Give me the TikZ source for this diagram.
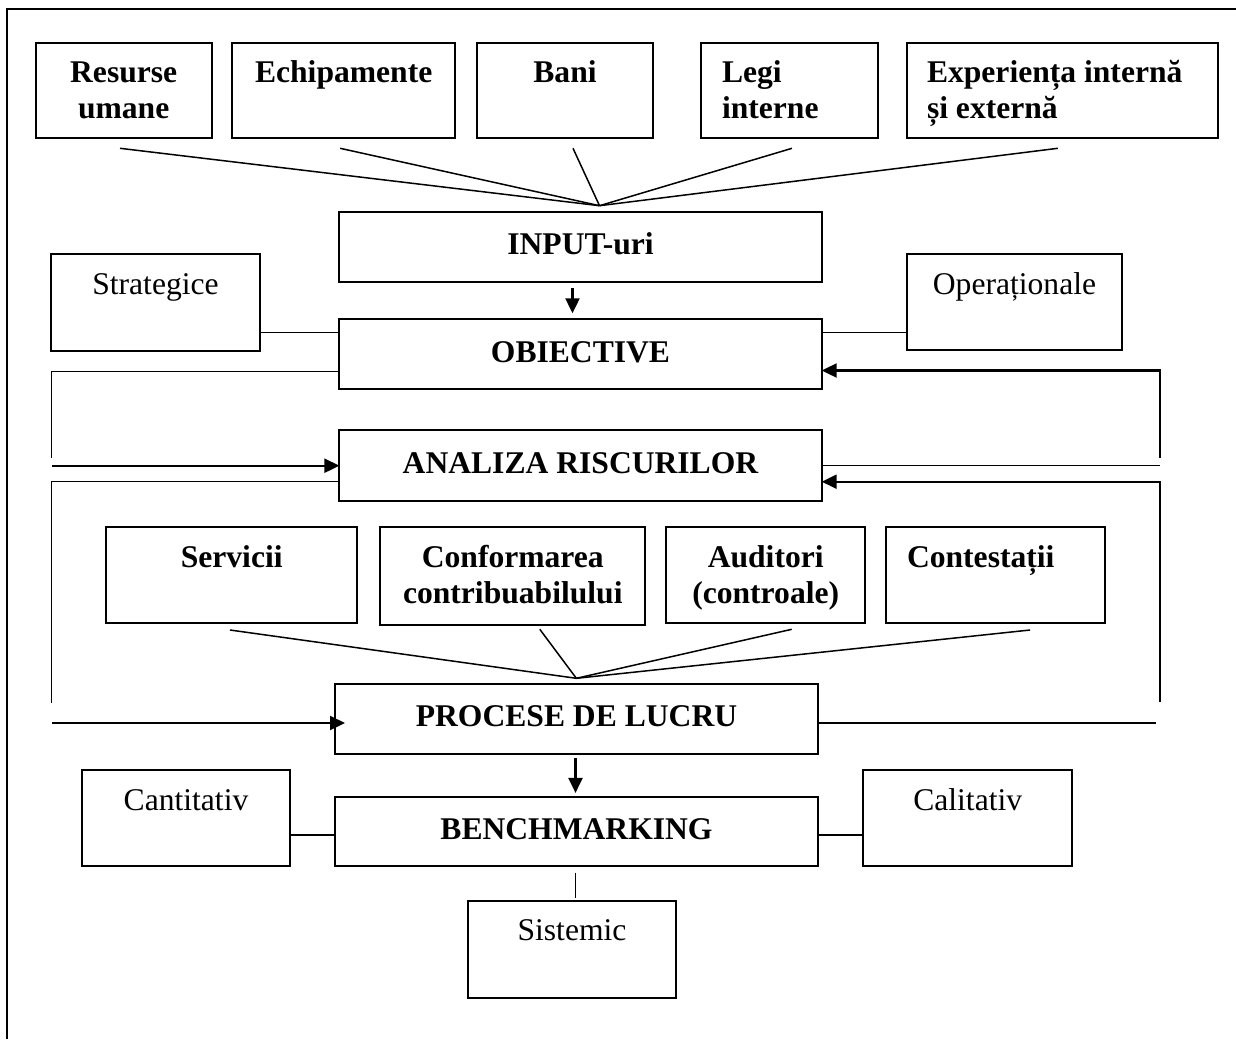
\documentclass[tikz,border=0pt]{standalone}
\usepackage{fontspec}
\setmainfont{Liberation Serif}
\usetikzlibrary{arrows.meta,calc}

% box given by its corners (x1,y1) and (x2,y2), in pixel-like units
\newcommand\mkbox[5]{%
  \node[box, minimum width={(#4-#2)*0.5pt}, minimum height={(#5-#3)*0.5pt}]
    (#1) at ({(#2+#4)/2},{(#3+#5)/2}) {};}
% text block: name, anchor, x, baseline of first line, text
\newcommand\mktxt[5]{%
  \node[lbl, anchor=#2] (#1) at (#3,{#4-25.3}) {\rule{0pt}{12.65pt}#5};}

\begin{document}
\begin{tikzpicture}[x=0.5pt,y=-0.5pt,
  box/.style={draw, line width=0.95pt, inner sep=0pt, outer sep=0pt},
  lbl/.style={inner sep=0pt, outer sep=0pt, align=center,
              font=\fontsize{15.8}{18}\selectfont},
  lbll/.style={lbl, align=left},
  ln/.style={line width=0.75pt},
  arr/.style={line width=1.1pt, -{Triangle[length=7.5pt,width=7pt]}}]

\useasboundingbox (0,0) rectangle (1236,1039);

% page frame
\draw[line width=1.35pt] (7,1039) -- (7,9) -- (1236,9);

% resources
\mkbox{hr}{35.7}{42.7}{211.7}{138.3}
\mkbox{ech}{232.3}{42.7}{455}{138.3}
\mkbox{bani}{477.2}{42.7}{652.8}{138.3}
\mkbox{legi}{701}{42.7}{878}{138.3}
\mkbox{exp}{907.3}{42.7}{1218.3}{138.3}
\mktxt{hr-t}{north}{123.7}{82.5}{\bfseries Resurse\\\bfseries umane}
\mktxt{ech-t}{north}{343.7}{82.5}{\bfseries Echipamente}
\mktxt{bani-t}{north}{565}{82.5}{\bfseries Bani}
\node[lbll, anchor=north west] (legi-t) at (722,{82.5-25.3})
  {\rule{0pt}{12.65pt}\bfseries Legi\\\bfseries interne};
\node[lbll, anchor=north west] (exp-t) at (927,{82.5-25.3})
  {\rule{0pt}{12.65pt}\bfseries Experiența internă\\\bfseries și externă};

% main chain
\mkbox{inp}{339.4}{211.7}{821.6}{281.7}
\mkbox{obj}{339.4}{319.3}{821.7}{389.3}
\mkbox{ana}{339.4}{430}{821.7}{500.7}
\mkbox{proc}{335}{684.3}{817.7}{754.3}
\mkbox{bench}{335}{796.7}{817.7}{866}
\mktxt{inp-t}{north}{580.5}{254}{\bfseries INPUT-uri}
\mktxt{obj-t}{north}{580.5}{362}{\bfseries OBIECTIVE}
\mktxt{ana-t}{north}{580.5}{473}{\bfseries ANALIZA RISCURILOR}
\mktxt{proc-t}{north}{576.5}{726}{\bfseries PROCESE DE LUCRU}
\mktxt{bench-t}{north}{576.5}{839}{\bfseries BENCHMARKING}

% objective types
\mkbox{strat}{51}{254}{260}{350.7}
\mkbox{oper}{907}{254}{1122}{350}
\mktxt{strat-t}{north}{155.5}{294.3}{Strategice}
\mktxt{oper-t}{north}{1014.5}{294.3}{Operaționale}

% work areas
\mkbox{serv}{106}{526.7}{357.4}{623}
\mkbox{conf}{380.4}{526.7}{645.2}{625}
\mkbox{aud}{666.2}{526.7}{865.2}{622.7}
\mkbox{cont}{886.3}{526.7}{1105}{623}
\mktxt{serv-t}{north}{231.7}{567}{\bfseries Servicii}
\mktxt{conf-t}{north}{512.8}{567}{\bfseries Conformarea\\\bfseries contribuabilului}
\mktxt{aud-t}{north}{765.7}{567}{\bfseries Auditori\\\bfseries (controale)}
\node[lbll, anchor=north west] (cont-t) at (907,{567-25.3})
  {\rule{0pt}{12.65pt}\bfseries Contestații};

% benchmarking types
\mkbox{cant}{81.7}{770}{290}{866}
\mkbox{cal}{863.3}{770}{1072}{866}
\mkbox{sist}{467.7}{901}{676}{997.7}
\mktxt{cant-t}{north}{186}{810}{Cantitativ}
\mktxt{cal-t}{north}{967.7}{810}{Calitativ}
\mktxt{sist-t}{north}{572}{940.7}{Sistemic}

% fan of inputs
\coordinate (fanA) at ($(inp.north)+(19,-6)$);
\draw[ln] ($(hr.south)+(-3.7,10)$) -- (fanA);
\draw[ln] ($(ech.south)+(-3.5,10)$) -- (fanA);
\draw[ln] ($(bani.south)+(8,10)$) -- (fanA);
\draw[ln] ($(legi.south)+(2.5,10)$) -- (fanA);
\draw[ln] ($(exp.south)+(-5,10)$) -- (fanA);

% fan of work areas
\coordinate (fanB) at ($(proc.north)+(0,-6)$);
\draw[ln] ($(serv.south)+(-1.7,7)$) -- (fanB);
\draw[ln] ($(conf.south)+(27,4.3)$) -- (fanB);
\draw[ln] ($(aud.south)+(26,6.6)$) -- (fanB);
\draw[ln] ($(cont.south)+(34.4,7)$) -- (fanB);

% vertical arrows
\coordinate (ax1) at (572.5,0);
\coordinate (ax2) at (575.5,0);
\coordinate (ax3) at (575.7,0);
\draw[arr, shorten <=3.2pt, shorten >=3pt] (inp.south -| ax1) -- (obj.north -| ax1);
\draw[arr, shorten <=1.9pt, shorten >=1.9pt] (proc.south -| ax2) -- (bench.north -| ax2);
\draw[ln, shorten <=3.35pt, shorten >=1.5pt] (bench.south -| ax3) -- (sist.north -| ax3);

% side connectors
\coordinate (cy1) at (0,332.7);
\coordinate (cy2) at (0,835);
\draw[ln] (strat.east |- cy1) -- (obj.west |- cy1);
\draw[ln] (obj.east |- cy1) -- (oper.west |- cy1);
\draw[ln] (cant.east |- cy2) -- (bench.west |- cy2);
\draw[ln] (bench.east |- cy2) -- (cal.west |- cy2);

% left feedback loops
\coordinate (la1) at (51.7,371.7);
\coordinate (la2) at (51.7,458);
\coordinate (la3) at (52,465.7);
\coordinate (lb1) at (51.7,481.7);
\coordinate (lb2) at (51.7,702.7);
\coordinate (lb3) at (52,723);
\draw[ln] (obj.west |- la1) -- (la1) -- (la2);
\draw[arr] (la3) -- (ana.west |- la3);
\draw[ln] (ana.west |- lb1) -- (lb1) -- (lb2);
\draw[arr, shorten >=-5pt] (lb3) -- (proc.west |- lb3);

% right feedback loops
\coordinate (ra1) at (1159.7,465.7);
\coordinate (ra2) at (1159.7,458);
\coordinate (ra3) at (1159.7,370.5);
\coordinate (rb1) at (1155.7,723);
\coordinate (rb2) at (1159.7,702);
\coordinate (rb3) at (1159.7,481.7);
\draw[ln] (ana.east |- ra1) -- (ra1);
\draw[arr] (ra2) -- (ra3) -- (obj.east |- ra3);
\draw[ln] (proc.east |- rb1) -- (rb1);
\draw[arr] (rb2) -- (rb3) -- (ana.east |- rb3);

\end{tikzpicture}
\end{document}
